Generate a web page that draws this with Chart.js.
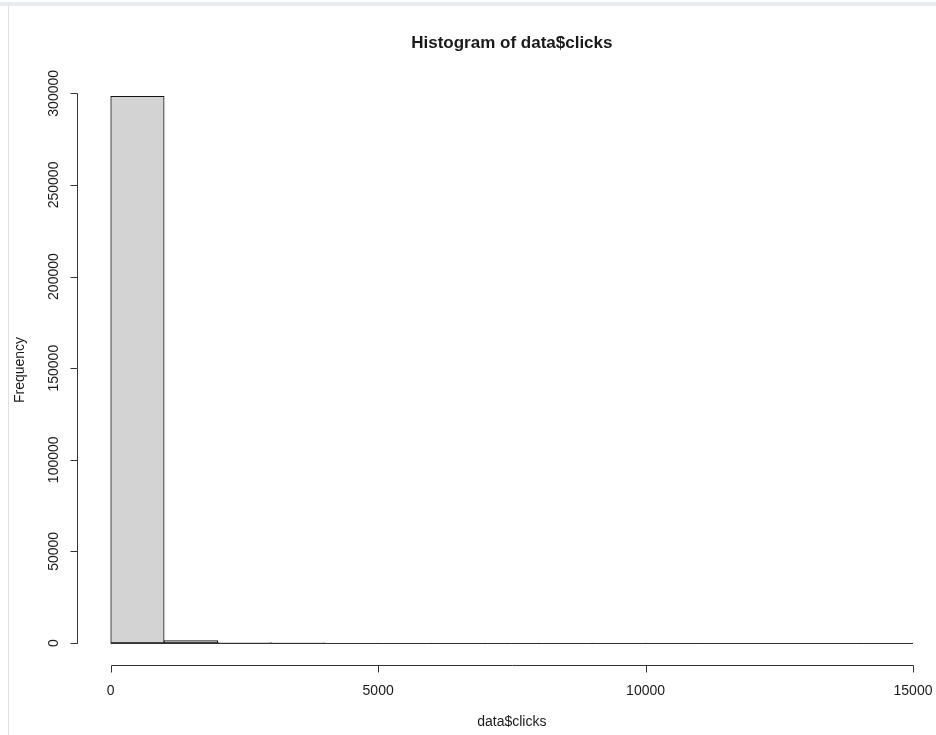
<!DOCTYPE html>
<html>
<head>
<meta charset="utf-8">
<script src="https://cdn.jsdelivr.net/npm/chart.js@4"></script>
<style>
  html, body { margin: 0; padding: 0; background: #fff; }
  #wrap { position: relative; width: 936px; height: 735px; overflow: hidden; }
  #topband { position: absolute; left: 0; top: 2px; width: 936px; height: 4px; background: #e9ecef; }
  #leftline { position: absolute; left: 8px; top: 6px; width: 1px; height: 729px; background: #dde0e3; }
  canvas { position: absolute; left: 0; top: 0; }
</style>
</head>
<body>
<div id="wrap">
  <canvas id="hist" width="936" height="735"></canvas>
  <div id="topband"></div>
  <div id="leftline"></div>
</div>
<script>
/* histogram of data$clicks – bins of width 1000 */
const binMids = [500, 1500, 2500, 3500, 4500, 5500, 6500, 7500, 8500, 9500, 10500, 11500, 12500, 13500, 14500];
const counts  = [298300, 1350, 280, 60, 25, 12, 6, 4, 2, 1, 1, 0, 0, 0, 1];
const xTicks  = [0, 5000, 10000, 15000];
const yTicks  = [0, 50000, 100000, 150000, 200000, 250000, 300000];
const binLo   = 0;
const binHi   = 15000;

const TEXT = '#1a1a1a';
const AXIS = '#333';
const FONT = '"Liberation Sans", Arial, sans-serif';

/* ----------------------------------------------------------
   R-style axes, drawn off the chart's own scales
   ---------------------------------------------------------- */
const rAxes = {
  id: 'rAxes',
  afterDatasetsDraw(chart) {
    const { ctx, chartArea: a, scales: { x, y } } = chart;
    const y0 = Math.round(y.getPixelForValue(0)) + 0.5;
    ctx.save();
    ctx.strokeStyle = AXIS;
    ctx.lineWidth = 1;

    // zero-height bins still show their outline along the baseline
    ctx.beginPath();
    ctx.moveTo(x.getPixelForValue(binLo), y0);
    ctx.lineTo(x.getPixelForValue(binHi), y0);
    ctx.stroke();

    // x axis, below the plot
    const xa = a.bottom + 0.5;
    ctx.beginPath();
    ctx.moveTo(Math.round(x.getPixelForValue(xTicks[0])) + 0.5, xa);
    ctx.lineTo(Math.round(x.getPixelForValue(xTicks[xTicks.length - 1])) + 0.5, xa);
    xTicks.forEach(t => {
      const px = Math.round(x.getPixelForValue(t)) + 0.5;
      ctx.moveTo(px, xa);
      ctx.lineTo(px, xa + 7);
    });
    ctx.stroke();

    // y axis, on the left edge
    const ya = a.left + 0.5;
    ctx.beginPath();
    ctx.moveTo(ya, Math.round(y.getPixelForValue(yTicks[0])) + 0.5);
    ctx.lineTo(ya, Math.round(y.getPixelForValue(yTicks[yTicks.length - 1])) + 0.5);
    yTicks.forEach(t => {
      const py = Math.round(y.getPixelForValue(t)) + 0.5;
      ctx.moveTo(ya, py);
      ctx.lineTo(ya - 7, py);
    });
    ctx.stroke();

    ctx.fillStyle = TEXT;
    ctx.font = '14px ' + FONT;
    ctx.textAlign = 'center';
    ctx.textBaseline = 'middle';
    xTicks.forEach(t => ctx.fillText(String(t), x.getPixelForValue(t), 691));
    const midX = (x.getPixelForValue(binLo) + x.getPixelForValue(binHi)) / 2;
    ctx.fillText('data$clicks', midX, 722);

    yTicks.forEach(t => {
      ctx.save();
      ctx.translate(54, y.getPixelForValue(t));
      ctx.rotate(-Math.PI / 2);
      ctx.fillText(String(t), 0, 0);
      ctx.restore();
    });
    ctx.save();
    ctx.translate(20, (a.top + a.bottom) / 2);
    ctx.rotate(-Math.PI / 2);
    ctx.fillText('Frequency', 0, 0);
    ctx.restore();

    ctx.font = 'bold 17px ' + FONT;
    ctx.fillText('Histogram of data$clicks', midX, 43);
    ctx.restore();
  }
};

new Chart(document.getElementById('hist'), {
  type: 'bar',
  data: {
    datasets: [{
      data: binMids.map((m, i) => ({ x: m, y: counts[i] })),
      backgroundColor: '#d3d3d3',
      borderColor: '#111',
      borderWidth: 1,
      borderSkipped: false,
      barPercentage: 1,
      categoryPercentage: 1,
    }],
  },
  options: {
    responsive: false,
    animation: false,
    devicePixelRatio: 1,
    layout: { padding: { left: 77, top: 75, right: 0, bottom: 70 } },
    plugins: { legend: { display: false }, tooltip: { enabled: false }, title: { display: false } },
    scales: {
      x: { type: 'linear', min: -630, max: 15430, offset: false, display: false },
      y: { type: 'linear', min: -12000, max: 310000, display: false },
    },
  },
  plugins: [rAxes],
});
</script>
</body>
</html>
